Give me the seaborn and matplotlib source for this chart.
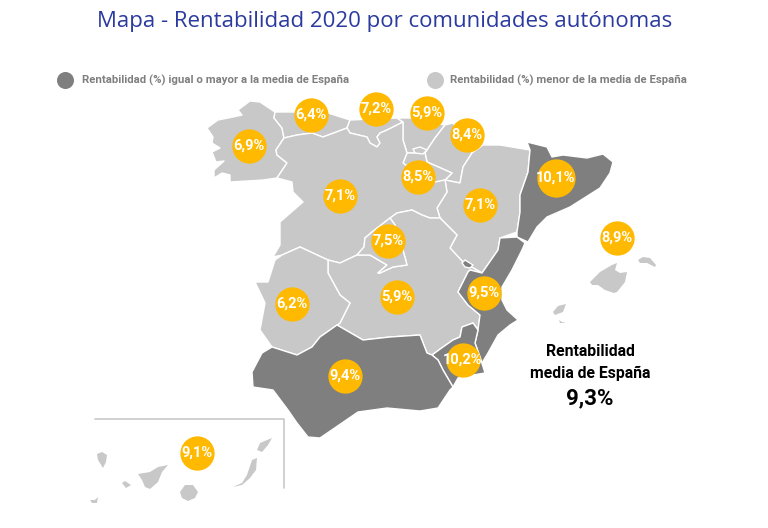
import matplotlib
matplotlib.use("Agg")
import matplotlib.pyplot as plt
import pandas as pd
import seaborn as sns

LIGHT = "#c8c8c8"
DARK = "#7f7f7f"
AMBER = "#ffb900"
TITLE_BLUE = "#2b3a9f"
BOLD_FONT = "Roboto"

# region outlines (image pixels)
galicia = [(207, 128), (218, 120), (233, 117), (242, 115), (238, 110), (250, 101), (260, 102), (275, 112),
           (274, 118), (282, 128), (284, 138), (276, 150), (277, 155), (287, 163), (277, 178), (263, 180),
           (247, 181), (230, 182), (230, 175), (222, 173), (214, 178), (214, 170), (224, 161), (216, 162),
           (212, 152), (220, 148), (212, 143), (213, 137)]
asturias = [(275, 112), (297, 112), (328, 113), (350, 120), (347, 128), (323, 137), (312, 133), (297, 135),
            (284, 138), (282, 128), (274, 118)]
cantabria = [(350, 120), (397, 118), (403, 122), (387, 130), (380, 133), (377, 137), (380, 143), (377, 147),
             (370, 143), (367, 137), (350, 133), (347, 128)]
pais_vasco = [(397, 118), (410, 118), (445, 125), (435, 138), (425, 153), (407, 153), (403, 140), (403, 122)]
navarra = [(445, 125), (453, 123), (467, 145), (472, 153), (463, 167), (460, 183), (445, 180), (452, 173),
           (427, 162), (425, 153), (435, 138)]
rioja = [(407, 153), (425, 153), (427, 162), (452, 173), (445, 180), (437, 182), (430, 183), (403, 163)]
aragon = [(472, 153), (483, 145), (500, 145), (530, 150), (528, 172), (520, 195), (520, 212), (517, 232),
          (500, 238), (498, 250), (482, 273), (463, 262), (450, 248), (457, 235), (440, 218), (437, 208),
          (447, 192), (445, 180), (460, 183), (463, 167)]
castilla_leon = [(284, 138), (297, 135), (312, 133), (323, 137), (347, 128), (350, 133), (367, 137), (370, 143),
                 (377, 147), (380, 143), (377, 137), (380, 133), (387, 130), (403, 122), (403, 140), (407, 153),
                 (403, 163), (430, 183), (445, 180), (447, 192), (437, 208), (440, 218), (430, 218), (422, 215),
                 (412, 210), (397, 213), (390, 218), (372, 232), (365, 238), (364, 247), (357, 255), (340, 263),
                 (328, 260), (300, 247), (282, 255), (273, 257), (280, 245), (280, 222), (303, 202), (293, 192),
                 (292, 182), (277, 178), (287, 163), (277, 155), (276, 150)]
trevino = [(413, 149), (420, 147), (427, 150), (423, 154), (415, 153)]
madrid = [(390, 218), (395, 225), (403, 250), (407, 265), (393, 267), (380, 273), (378, 273), (387, 265),
          (370, 255), (357, 255), (364, 247), (365, 238), (372, 232)]
castilla_mancha = [(328, 260), (340, 263), (357, 255), (370, 255), (387, 265), (378, 273), (380, 273), (393, 267),
                   (407, 265), (403, 250), (395, 225), (390, 218), (397, 213), (412, 210), (422, 215), (430, 218),
                   (440, 218), (457, 235), (450, 248), (463, 262), (482, 273), (470, 270), (468, 272), (458, 292),
                   (468, 305), (480, 315), (478, 330), (473, 323), (462, 327), (460, 337), (453, 340), (443, 347),
                   (432, 355), (427, 353), (420, 335), (390, 337), (363, 340), (337, 325), (340, 323),
                   (350, 303), (340, 295), (328, 273)]
extremadura = [(255, 282), (268, 282), (275, 260), (282, 255), (300, 247), (328, 260), (328, 273), (340, 295),
               (350, 303), (340, 323), (320, 337), (312, 347), (297, 355), (272, 347), (260, 330), (265, 303)]
cataluna = [(527, 142), (547, 147), (552, 157), (563, 155), (587, 158), (603, 154), (613, 162), (610, 173),
            (600, 188), (570, 207), (547, 217), (537, 227), (528, 242), (517, 237), (517, 232), (520, 212),
            (520, 195), (528, 172), (530, 150)]
valencia = [(500, 238), (517, 237), (525, 243), (522, 250), (512, 270), (502, 287), (502, 300), (507, 310),
            (518, 320), (510, 325), (498, 335), (488, 353), (482, 363), (485, 373), (480, 357), (475, 343),
            (478, 330), (480, 315), (468, 305), (458, 292), (468, 272), (470, 270), (482, 273), (498, 250)]
ademuz = [(462, 263), (465, 260), (473, 265), (470, 268), (465, 267)]
murcia = [(462, 327), (473, 323), (478, 330), (475, 343), (480, 357), (485, 373), (473, 375), (458, 378),
          (453, 387), (443, 370), (438, 360), (432, 355), (443, 347), (453, 340), (460, 337)]
andalucia = [(252, 372), (262, 353), (272, 347), (297, 355), (312, 347), (320, 337), (337, 325), (363, 340),
             (390, 337), (420, 335), (427, 353), (432, 355), (438, 360), (443, 370), (453, 387), (450, 390),
             (438, 408), (420, 411), (387, 408), (358, 412), (320, 438), (308, 437), (297, 423), (288, 410),
             (273, 390), (253, 387)]

mallorca = [(590, 282), (600, 272), (612, 265), (617, 263), (615, 270), (620, 273), (627, 272), (625, 282),
            (617, 292), (614, 293), (605, 290), (598, 285), (592, 285)]
menorca = [(638, 260), (643, 257), (650, 258), (656, 265), (655, 267), (647, 263), (640, 263)]
ibiza = [(553, 312), (558, 306), (566, 304), (563, 312), (555, 315)]
formentera = [(559, 320), (562, 322), (566, 323), (560, 323)]
la_palma = [(97, 454), (102, 452), (107, 455), (106, 462), (103, 468), (98, 460)]
gomera = [(122, 483), (125, 481), (131, 485), (126, 488)]
tenerife = [(138, 474), (150, 472), (158, 467), (168, 465), (162, 472), (158, 482), (150, 489), (145, 487), (142, 480)]
hierro = [(90, 500), (95, 500), (98, 497), (97, 503), (92, 503)]
gran_canaria = [(180, 492), (185, 485), (193, 485), (198, 492), (195, 498), (188, 501), (182, 498)]
fuerteventura = [(233, 487), (242, 483), (247, 475), (252, 460), (257, 458), (256, 470), (250, 478), (242, 485)]
lanzarote = [(257, 450), (260, 443), (272, 438), (268, 445), (262, 452)]

light_regions = [galicia, asturias, cantabria, pais_vasco, navarra, rioja, aragon, castilla_leon,
                 castilla_mancha, madrid, extremadura, trevino]
dark_regions = [cataluna, valencia, ademuz, murcia, andalucia]
islands = [mallorca, menorca, ibiza, formentera, la_palma, gomera, tenerife, hierro, gran_canaria,
           fuerteventura, lanzarote]

bubble_labels = ["6,9%", "6,4%", "7,2%", "5,9%", "8,4%", "8,5%", "10,1%", "7,1%", "7,1%", "7,5%", "8,9%",
                 "5,9%", "6,2%", "9,5%", "10,2%", "9,4%", "9,1%"]
bubble_x = [249, 311, 376, 427, 467, 418, 556, 340, 480, 388, 617, 397, 292, 484, 463, 345, 197]
bubble_y = [146, 115, 109, 113, 135, 177, 178, 196, 205, 241, 238, 297, 304, 293, 360, 376, 453]


def draw_shapes(ax, shapes, color, edge):
    for shape in shapes:
        xs, ys = zip(*shape)
        ax.fill(xs, ys, facecolor=color, edgecolor=edge, linewidth=1.0, joinstyle="round")


sns.set_style("white")
plt.rcParams["font.family"] = ["Open Sans", "DejaVu Sans"]

fig = plt.figure(figsize=(7.68, 5.28), dpi=100)
ax = fig.add_axes([0, 0, 1, 1])
ax.set_xlim(0, 768)
ax.set_ylim(528, 0)
ax.axis("off")

draw_shapes(ax, light_regions, LIGHT, "white")
draw_shapes(ax, dark_regions, DARK, "white")
draw_shapes(ax, islands, LIGHT, "none")

# canarias inset frame
ax.plot([95, 284, 284], [419, 419, 488], color="#c8c8c8", linewidth=1.2)

bubbles = pd.DataFrame({"x": bubble_x, "y": bubble_y, "label": bubble_labels})
bubbles["big"] = bubbles["label"] == "10,1%"
sns.scatterplot(data=bubbles[~bubbles["big"]], x="x", y="y", s=610, color=AMBER, linewidth=0, ax=ax, legend=False)
sns.scatterplot(data=bubbles[bubbles["big"]], x="x", y="y", s=760, color=AMBER, linewidth=0, ax=ax, legend=False)
ax.set_xlabel("")
ax.set_ylabel("")
for _, row in bubbles.iterrows():
    ax.text(row["x"], row["y"], row["label"], color="white", fontsize=10.5, fontweight="bold",
            family=BOLD_FONT, ha="center", va="center")

ax.text(385, 21, "Mapa - Rentabilidad 2020 por comunidades autónomas", color=TITLE_BLUE, fontsize=16,
        ha="center", va="center")

# legend
ax.scatter([65], [80], s=150, color=DARK, linewidth=0)
ax.scatter([435], [80], s=150, color=LIGHT, linewidth=0)
ax.text(82, 80, "Rentabilidad (%) igual o mayor a la media de España", color=DARK, fontsize=8.2,
        fontweight="bold", family=BOLD_FONT, ha="left", va="center")
ax.text(450, 80, "Rentabilidad (%) menor de la media de España", color=DARK, fontsize=8.2,
        fontweight="bold", family=BOLD_FONT, ha="left", va="center")

ax.text(590, 352, "Rentabilidad", color="black", fontsize=11.3, fontweight="bold", family=BOLD_FONT,
        ha="center", va="center")
ax.text(590, 373, "media de España", color="black", fontsize=11.3, fontweight="bold", family=BOLD_FONT,
        ha="center", va="center")
ax.text(590, 398, "9,3%", color="black", fontsize=16, fontweight="bold", family=BOLD_FONT,
        ha="center", va="center")

fig.savefig("out.png", dpi=100, facecolor="white")
